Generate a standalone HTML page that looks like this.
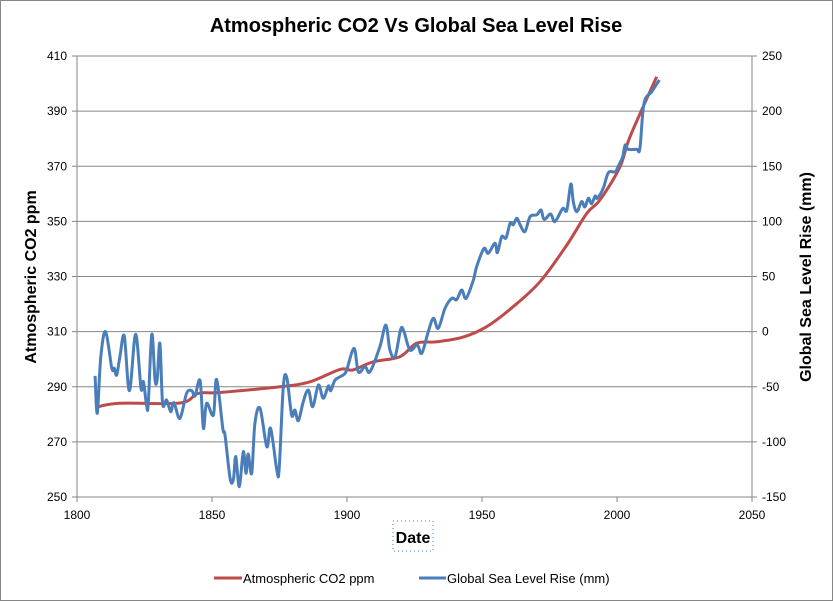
<!DOCTYPE html>
<html><head><meta charset="utf-8"><style>
html,body{margin:0;padding:0;background:#fff;}
svg{display:block;font-family:"Liberation Sans",sans-serif;}
</style></head><body>
<svg id="chart" width="833" height="601" viewBox="0 0 833 601">
<rect x="0.5" y="0.5" width="832" height="600" fill="#fff" stroke="#868686"/>
<text x="416" y="32" text-anchor="middle" font-size="20" font-weight="bold" fill="#000">Atmospheric CO2 Vs Global Sea Level Rise</text>
<g id="grid"></g>
<g id="axes"></g>
<g id="series"></g>
<text transform="translate(36,277) rotate(-90)" text-anchor="middle" font-size="16" font-weight="bold">Atmospheric CO2 ppm</text>
<text transform="translate(811,277) rotate(-90)" text-anchor="middle" font-size="16" font-weight="bold">Global Sea Level Rise (mm)</text>
<rect x="393" y="521" width="40" height="30" fill="none" stroke="#4a7ebb" stroke-dasharray="1 3"/>
<text x="413" y="543" text-anchor="middle" font-size="16" font-weight="bold">Date</text>
<g>
<line x1="214" y1="578" x2="242" y2="578" stroke="#be4b48" stroke-width="3"/>
<text x="243" y="583" font-size="13">Atmospheric CO2 ppm</text>
<line x1="419" y1="578" x2="446" y2="578" stroke="#4a7ebb" stroke-width="3"/>
<text x="447" y="583" font-size="13">Global Sea Level Rise (mm)</text>
</g>
</svg>
<script>
const xTicks=[1800,1850,1900,1950,2000,2050];
const leftTicks=[250,270,290,310,330,350,370,390,410];
const rightTicks=[-150,-100,-50,0,50,100,150,200,250];
const co2Years=[1806.7,1815.9,1838.1,1844.9,1853,1875.2,1886.3,1897.4,1902.2,1909.6,1919.6,1925.8,1933.2,1943,1951.7,1961.5,1971.5,1981.4,1988.8,1993.7,2001.1,2004.8,2014.7];
const co2Values=[282.5,284,284.1,287.6,287.9,290,291.8,296.3,296.1,299,300.9,305.8,306.3,308,311.8,319,328.1,341.4,352.9,357.8,369.8,380.7,402.5];
const seaYears=[1806.7,1807.5,1808.8,1810.6,1812.9,1813.8,1814.7,1815.9,1817.5,1819.4,1821.7,1823.7,1824.6,1825.8,1826.4,1827.7,1828.9,1829.7,1830.7,1831.7,1833.2,1834.7,1835.9,1838.1,1840.6,1842.5,1843.7,1845.6,1846.8,1848,1850.5,1851.7,1854,1854.8,1856.7,1857.9,1858.8,1860.1,1861.6,1862.6,1863.4,1864.7,1865.9,1867.8,1870.3,1871.7,1874,1874.9,1876.4,1877.7,1879.5,1880.7,1882,1883.8,1885.7,1887.3,1889.4,1891.2,1893.1,1894,1895.6,1898.6,1899.9,1902.6,1904.2,1906.7,1908.5,1912.2,1914.4,1915.9,1917.8,1919.9,1921.1,1923.3,1926,1927.7,1930.1,1932,1933.8,1936.3,1938.8,1940.6,1942.5,1944.1,1946.8,1948,1950.7,1952.3,1954.8,1955.7,1957.3,1958.9,1960.4,1961.6,1962.9,1964.1,1965.9,1967.8,1970.3,1971.9,1973,1975.4,1977,1979.9,1981.4,1982.9,1983.8,1985.1,1986.9,1988.1,1989.4,1990.6,1991.9,1992.7,1994.9,1996.8,1999.3,2000.5,2002.1,2003,2004.2,2007.3,2008.5,2010,2012.9,2015.7];
const seaValues=[-40.2,-74,-22.7,-0.1,-33.3,-33.3,-39.3,-22.7,-4,-53.6,-2.4,-51.4,-45.4,-67.5,-65,-2.4,-43.2,-43.2,-10.6,-65,-62,-72.6,-64.5,-78.7,-55.9,-53.6,-58.4,-44.5,-87.7,-65,-75.6,-43.2,-87.7,-93.8,-133,-134.6,-113.4,-140.6,-108.9,-128.5,-111,-128.5,-83.2,-69.6,-104.4,-87.7,-125.5,-124,-50,-41.8,-75.6,-71.1,-80.8,-63.5,-53,-68.1,-48.4,-60.5,-49.3,-53.6,-43.9,-39.3,-34.8,-15.1,-36.4,-31.8,-36.4,-13.6,6,-16.7,-22.7,2.1,0,-16.7,-12.1,-19.7,0,12.1,3,21.2,30.2,29,37.8,30.2,46.8,58.9,75.4,71,80.1,71.6,86.1,85,98.3,97,102.8,97,90.7,104.3,106,110.3,101.8,106.7,99.8,111.7,110,133.9,117.9,108.8,117.9,113,121,116,123,121,130,144.2,145,150.2,158.7,169.3,165.4,165.4,166.3,207.1,217.6,228.2];

const L=77,R=752,T=56,B=497;
const xs=y=>L+(y-1800)/250*(R-L);
const yl=v=>B-(v-250)/160*(B-T);
const yr=v=>B-(v+150)/400*(B-T);
const NS="http://www.w3.org/2000/svg";
function mk(tag,attrs,parent){const e=document.createElementNS(NS,tag);for(const k in attrs)e.setAttribute(k,attrs[k]);parent.appendChild(e);return e;}
function smooth(pts){
  let d='M'+pts[0][0].toFixed(1)+','+pts[0][1].toFixed(1);
  const t=0.5/3;
  for(let i=0;i<pts.length-1;i++){
    const p0=pts[Math.max(i-1,0)],p1=pts[i],p2=pts[i+1],p3=pts[Math.min(i+2,pts.length-1)];
    const c1=[p1[0]+(p2[0]-p0[0])*t,p1[1]+(p2[1]-p0[1])*t];
    const c2=[p2[0]-(p3[0]-p1[0])*t,p2[1]-(p3[1]-p1[1])*t];
    d+=' C'+c1.map(v=>v.toFixed(1)).join(',')+' '+c2.map(v=>v.toFixed(1)).join(',')+' '+p2[0].toFixed(1)+','+p2[1].toFixed(1);
  }
  return d;
}
const grid=document.getElementById('grid'),axes=document.getElementById('axes'),series=document.getElementById('series');
leftTicks.forEach(t=>{
  const y=yl(t);
  if(t>250){const g=mk('line',{x1:L,x2:R,y1:y,y2:y,stroke:'#868686','stroke-width':1},grid);
  
  }
  const tk=mk('line',{x1:L-5,x2:L,y1:y,y2:y,stroke:'#868686'},axes);
  
  
  const tx=mk('text',{x:L-10,y:y+4,'text-anchor':'end','font-size':12},axes);
  tx.textContent=t;
  
  
});
rightTicks.forEach(t=>{
  const y=yr(t);
  const tk=mk('line',{x1:R,x2:R+5,y1:y,y2:y,stroke:'#868686'},axes);
  
  
  const tx=mk('text',{x:R+10,y:y+4,'text-anchor':'start','font-size':12},axes);
  tx.textContent=t;
  
  
});
xTicks.forEach(t=>{
  const x=xs(t);
  const tk=mk('line',{x1:x,x2:x,y1:B,y2:B+5,stroke:'#868686'},axes);
  
  
  const tx=mk('text',{x:x,y:B+22,'text-anchor':'middle','font-size':12},axes);
  tx.textContent=t;
  
  
});
const ax1=mk('line',{x1:L,x2:L,y1:T,y2:B,stroke:'#868686'},axes);


const ax2=mk('line',{x1:R,x2:R,y1:T,y2:B,stroke:'#868686'},axes);


const ax3=mk('line',{x1:L,x2:R,y1:B,y2:B,stroke:'#868686'},axes);


const co2=mk('path',{d:smooth(co2Years.map((y,i)=>[xs(y),yl(co2Values[i])])),fill:'none',stroke:'#be4b48','stroke-width':3,'stroke-linejoin':'round'},series);


const sea=mk('path',{d:smooth(seaYears.map((y,i)=>[xs(y),yr(seaValues[i])])),fill:'none',stroke:'#4a7ebb','stroke-width':3,'stroke-linejoin':'round'},series);


</script>
</body></html>
